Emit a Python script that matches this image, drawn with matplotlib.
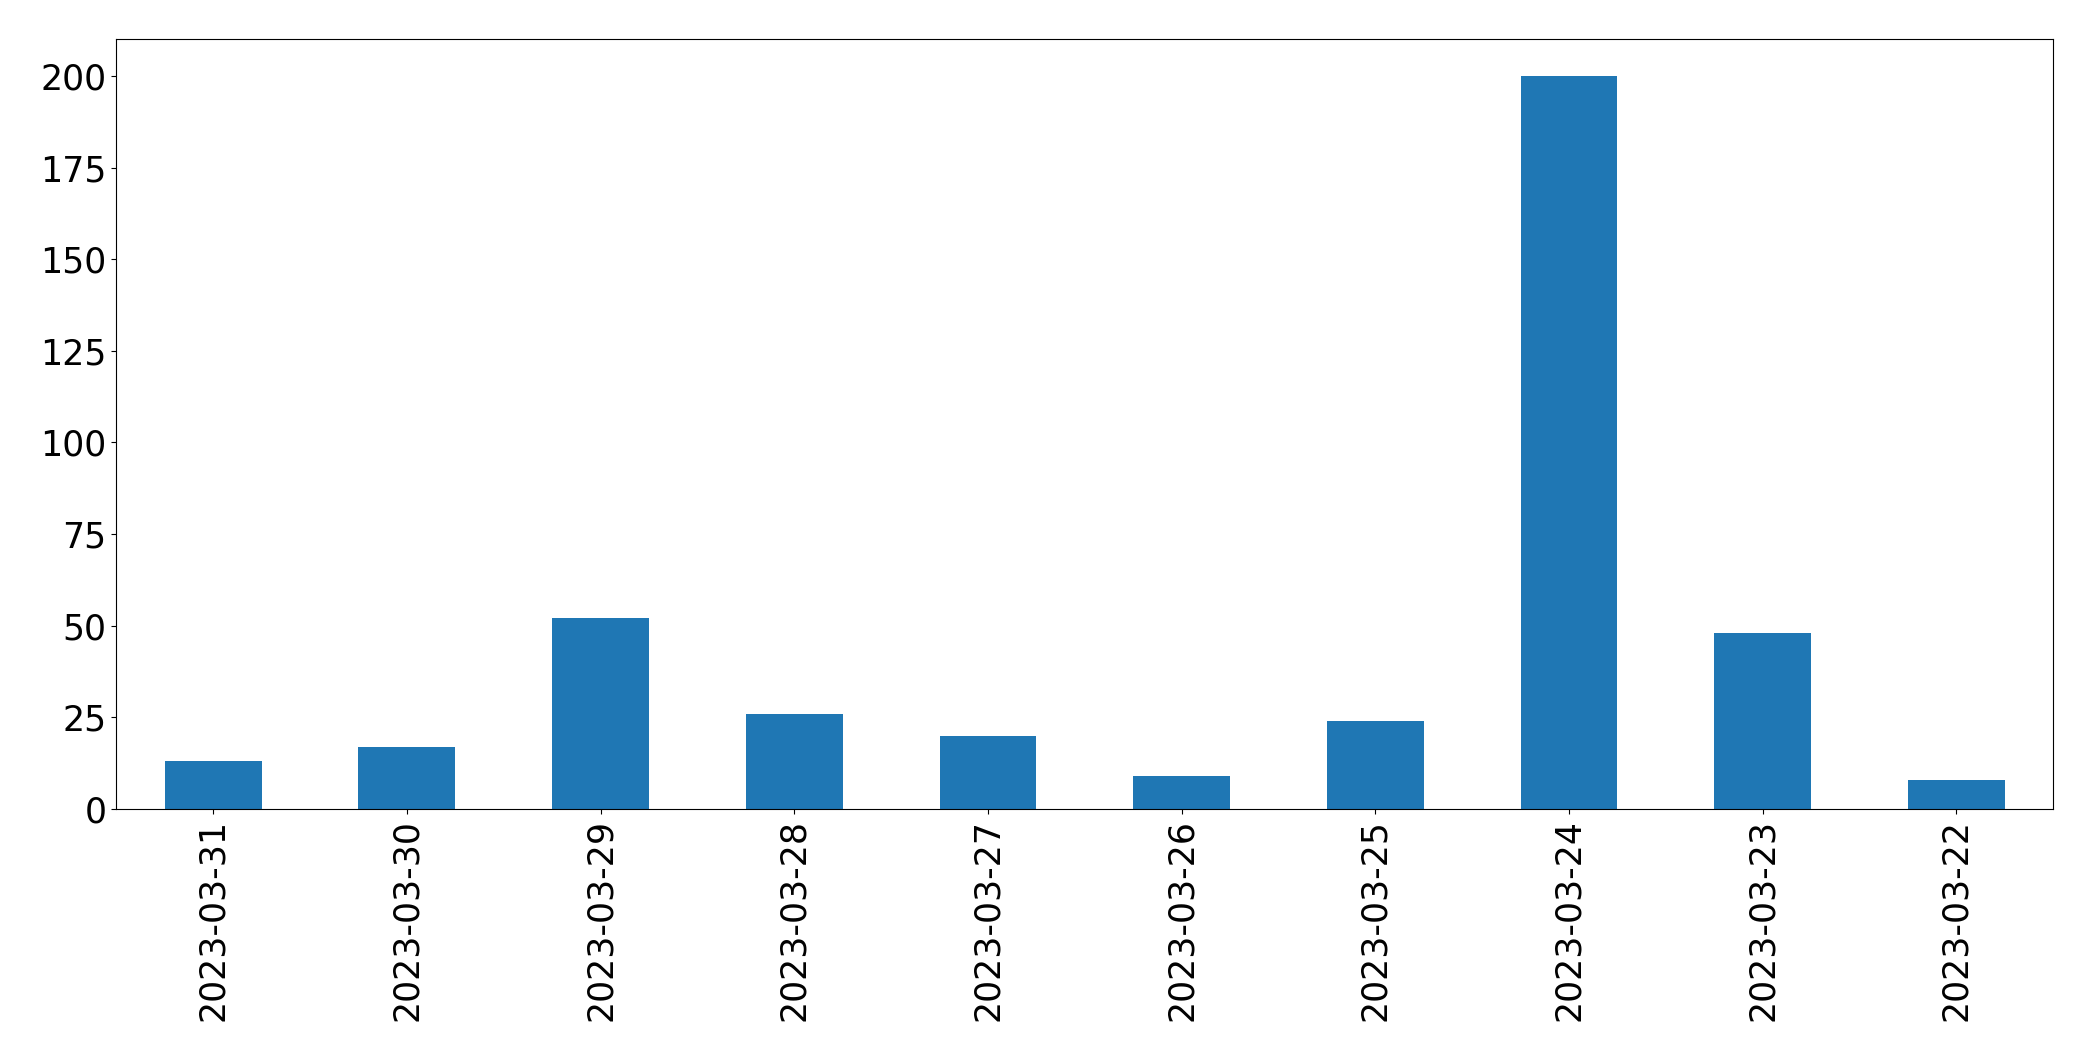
import pandas as pd
import matplotlib
matplotlib.use("Agg")
import matplotlib.pyplot as plt

dates = ['2023-03-31', '2023-03-30', '2023-03-29', '2023-03-28', '2023-03-27',
         '2023-03-26', '2023-03-25', '2023-03-24', '2023-03-23', '2023-03-22']
counts = [13, 17, 52, 26, 20, 9, 24, 200, 48, 8]

s = pd.Series(counts, index=dates)

fig = plt.figure(figsize=(20.93, 10.61), dpi=100)
ax = fig.add_subplot(111)
s.plot(kind='bar', ax=ax, fontsize=25)
plt.subplots_adjust(left=0.0556, right=0.981, top=0.963, bottom=0.2375)

plt.savefig('out.png', dpi=100)
